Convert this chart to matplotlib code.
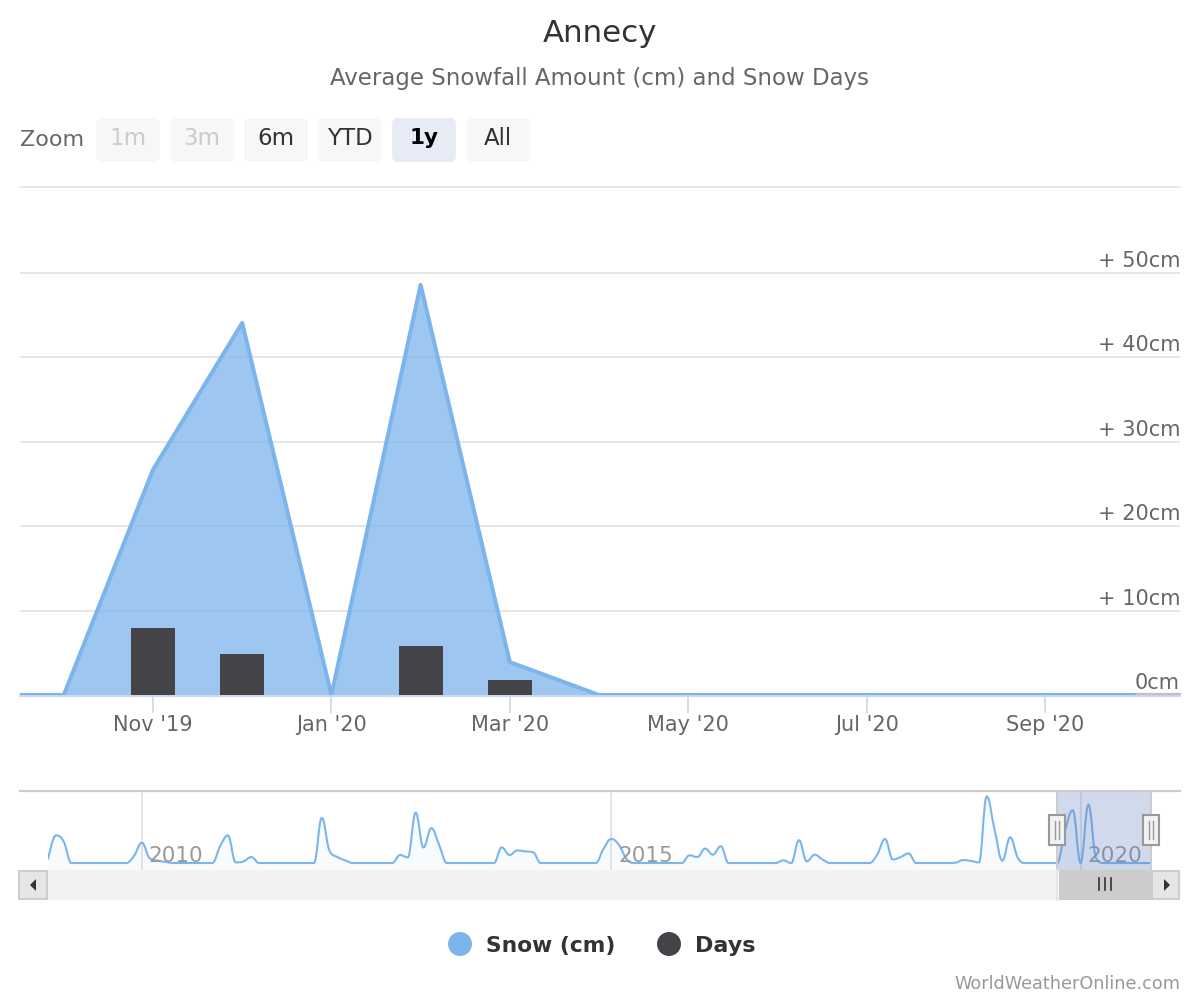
import numpy as np
import pandas as pd
import matplotlib
matplotlib.use("Agg")
import matplotlib.pyplot as plt
from matplotlib.path import Path
from matplotlib.patches import PathPatch, FancyBboxPatch, Rectangle, Circle, Polygon

# ------------------ data ------------------
# the axis is ordinal, every month takes the same width
main_months = ["Sep '19", "Oct '19", "Nov '19", "Dec '19", "Jan '20", "Feb '20", "Mar '20", "Apr '20",
               "May '20", "Jun '20", "Jul '20", "Aug '20", "Sep '20", "Oct '20", "Nov '20"]
main_snow = [0, 0, 26.7, 44.1, 0, 48.6, 3.9, 0, 0, 0, 0, 0, 0, 0, 0]

bar_months = ["Nov '19", "Dec '19", "Feb '20", "Mar '20"]
bar_days = [7.9, 4.9, 5.8, 1.8]

y_ticks = [0, 10, 20, 30, 40, 50]
y_labels = ["0cm", "+ 10cm", "+ 20cm", "+ 30cm", "+ 40cm", "+ 50cm"]
x_labels = ["Nov '19", "Jan '20", "Mar '20", "May '20", "Jul '20", "Sep '20"]

# navigator series, monthly from Jan 2009 to Oct 2020
nav_snow = [3, 23, 18, 0, 0, 0, 0, 0, 0, 0, 0, 6,
            17, 4, 2, 1, 0, 0, 0, 0, 0, 0, 14, 23,
            0.5, 1.4, 5, 0, 0, 0, 0, 0, 0, 0, 0, 37.5,
            10, 5, 2.2, 0, 0, 0, 0, 0, 0, 6.7, 4.7, 42,
            13, 29, 15, 0, 0, 0, 0, 0, 0, 0, 13, 6.7,
            10.5, 9.7, 9, 0, 0, 0, 0, 0, 0, 0, 0, 11.7,
            20, 15, 3, 0, 0, 0, 0, 0, 0, 0, 6.4, 5,
            12, 7, 14, 0, 0, 0, 0, 0, 0, 0, 2.2, 0,
            19, 1.4, 7, 3, 0, 0, 0, 0, 0, 0, 7, 20,
            3, 5, 8, 0, 0, 0, 0, 0, 0.3, 2.5, 1.7, 0.5,
            55.5, 28, 2, 21.4, 4, 0, 0, 0, 0, 0, 26.7, 44,
            0, 48.6, 3.7, 0, 0, 0, 0, 0, 0, 0]
nav_months = pd.date_range("2009-01-01", "2020-10-01", freq="MS")
nav_tick_dates = pd.to_datetime(["2010-01-01", "2015-01-01", "2020-01-01"])
nav_labels = ["2010", "2015", "2020"]

zoom_buttons = ["1m", "3m", "6m", "YTD", "1y", "All"]

BLUE = "#7cb5ec"
DARK = "#434348"

W, H = 1200, 1000
fig = plt.figure(figsize=(12, 10), dpi=100, facecolor="white")


def px_axes(left, top, right, bottom):
    return fig.add_axes([left / W, 1 - bottom / H, (right - left) / W, (bottom - top) / H])


def spline_path(xs, ys):
    # same control points a highcharts spline uses
    verts = [(xs[0], ys[0])]
    codes = [Path.MOVETO]
    n = len(xs)
    lc = [None] * n
    rc = [None] * n
    s = 1.5
    for i in range(1, n - 1):
        lx = (s * xs[i] + xs[i - 1]) / (s + 1)
        ly = (s * ys[i] + ys[i - 1]) / (s + 1)
        rx = (s * xs[i] + xs[i + 1]) / (s + 1)
        ry = (s * ys[i] + ys[i + 1]) / (s + 1)
        c = (ry - ly) * (rx - xs[i]) / (rx - lx) + ys[i] - ry
        ly += c
        ry += c
        if ly > ys[i] and ly > ys[i - 1]:
            ly = max(ys[i], ys[i - 1])
            ry = 2 * ys[i] - ly
        elif ly < ys[i] and ly < ys[i - 1]:
            ly = min(ys[i], ys[i - 1])
            ry = 2 * ys[i] - ly
        if ry > ys[i] and ry > ys[i + 1]:
            ry = max(ys[i], ys[i + 1])
            ly = 2 * ys[i] - ry
        elif ry < ys[i] and ry < ys[i + 1]:
            ry = min(ys[i], ys[i + 1])
            ly = 2 * ys[i] - ry
        lc[i] = (lx, ly)
        rc[i] = (rx, ry)
    for i in range(1, n):
        c1 = rc[i - 1] if rc[i - 1] else (xs[i - 1], ys[i - 1])
        c2 = lc[i] if lc[i] else (xs[i], ys[i])
        verts += [c1, c2, (xs[i], ys[i])]
        codes += [Path.CURVE4] * 3
    return verts, codes


# ------------------ main chart ------------------
ax = px_axes(20, 187, 1180, 695)
for s in ax.spines.values():
    s.set_visible(False)
ax.set_ylim(0, 60.2)
ax.set_xlim(0.509, 13.513)
ax.set_yticks(y_ticks[1:] + [60.2])
ax.tick_params(axis="y", length=0, labelleft=False)
ax.grid(axis="y", color="#e6e6e6", lw=1.4)
ax.get_ygridlines()[-1].set_clip_on(False)
ax.set_axisbelow(True)

main_x = list(range(len(main_months)))
ax.fill_between(main_x, main_snow, 0, color=BLUE, alpha=0.75, lw=0, zorder=2)
# clipped at the axes bottom, so only the top half of the line shows along zero
ax.plot(main_x, main_snow, color=BLUE, lw=2.9, zorder=3, solid_joinstyle="round")
bar_x = [main_months.index(m) for m in bar_months]
ax.bar(bar_x, bar_days, width=0.493, color=DARK, zorder=4)

ax.set_xticks([main_months.index(m) for m in x_labels])
ax.set_xticklabels(x_labels, fontsize=15, color="#666666")
ax.tick_params(axis="x", length=13, width=1.2, color="#ccd6eb", pad=1.5)
for lab, val in zip(y_labels, y_ticks):
    ax.annotate(lab, (1.0, val), xycoords=ax.get_yaxis_transform(), xytext=(0, 1.5), textcoords="offset points",
                ha="right", va="bottom", fontsize=15, color="#666666", zorder=6)

# ------------------ navigator ------------------
nav = px_axes(48, 791, 1151, 870)
for s in nav.spines.values():
    s.set_visible(False)
nav_x = list(range(len(nav_snow)))
nav.set_xlim(nav_x[0], nav_x[-1])
nav.set_ylim(-5.8, 60)
nav.set_yticks([])
verts, codes = spline_path(nav_x, list(nav_snow))
nav.add_patch(PathPatch(Path(verts + [(nav_x[-1], -5.8), (nav_x[0], -5.8), (nav_x[0], nav_snow[0])],
                             codes + [Path.LINETO, Path.LINETO, Path.LINETO]),
                        facecolor=BLUE, alpha=0.05, lw=0))
nav.add_patch(PathPatch(Path(verts, codes), facecolor="none", edgecolor=BLUE, lw=1.5))
nav_ticks = [nav_months.get_loc(t) for t in nav_tick_dates]
nav.set_xticks(nav_ticks)
nav.set_xticklabels([])
nav.tick_params(axis="x", length=0)
nav.grid(axis="x", color="#e6e6e6", lw=1.4)
nav.set_axisbelow(True)
for lab, t in zip(nav_labels, nav_ticks):
    nav.annotate(lab, (t, -5.8), xytext=(5, 3), textcoords="offset points",
                 fontsize=15.5, color="#999999", ha="left", va="bottom")

# ------------------ everything else, in picture pixels ------------------
ov = fig.add_axes([0, 0, 1, 1], facecolor="none")
ov.set_xlim(0, W)
ov.set_ylim(H, 0)
ov.axis("off")

ov.text(600, 34, "Annecy", ha="center", va="center", fontsize=22.2, color="#333333")
ov.text(599, 78, "Average Snowfall Amount (cm) and Snow Days", ha="center", va="center",
        fontsize=16.5, color="#666666")

ov.text(20, 140, "Zoom", ha="left", va="center", fontsize=16, color="#666666")
btn_left = [96, 170, 244, 318, 392, 466]
for name, left in zip(zoom_buttons, btn_left):
    active = name == "1y"
    off = name in ("1m", "3m")
    ov.add_patch(FancyBboxPatch((left + 3, 121), 58, 38, boxstyle="round,pad=0,rounding_size=3",
                                mutation_aspect=1, lw=3 * 1.4,
                                edgecolor="#e6ebf5" if active else "#f7f7f7",
                                facecolor="#e6ebf5" if active else "#f7f7f7"))
    ov.text(left + 32, 138.5, name, ha="center", va="center", fontsize=16.5 if name != "1y" else 15.5,
            color="#cccccc" if off else ("#000000" if active else "#333333"),
            fontweight="bold" if active else "normal")

# x axis line, grey stub under the 0cm label, navigator top line
ov.plot([20, 1180], [695.5, 695.5], color="#ccd6eb", lw=1.4, zorder=1)
ov.plot([1137, 1180], [693.7, 693.7], color="#c0c0c0", lw=1.6)
ov.plot([20, 1180], [791, 791], color="#cccccc", lw=1.6)

# navigator mask and handles
ov.add_patch(Rectangle((1057, 791), 94, 79, facecolor="#6685c2", alpha=0.3, lw=0))
ov.plot([1057, 1057], [791, 870], color="#cccccc", lw=1.4)
ov.plot([1151, 1151], [791, 870], color="#cccccc", lw=1.4)
for hx in (1057, 1151):
    ov.add_patch(Rectangle((hx - 8, 815), 16, 30, facecolor="#f2f2f2", edgecolor="#999999", lw=1.5, zorder=5))
    ov.plot([hx - 2, hx - 2], [821, 839], color="#999999", lw=1, zorder=6)
    ov.plot([hx + 2, hx + 2], [821, 839], color="#999999", lw=1, zorder=6)

# scrollbar
ov.add_patch(Rectangle((19, 870), 1160, 30, facecolor="#f2f2f2", lw=0))
ov.add_patch(Rectangle((1059, 870), 92, 30, facecolor="#cccccc", lw=0))
ov.plot([1057, 1057], [870, 900], color="#e6e6e6", lw=1.4)
for sx in (1099, 1105, 1111):
    ov.plot([sx, sx], [878, 890], color="#333333", lw=1.2)
ov.add_patch(Rectangle((19, 871), 28, 28, facecolor="#e6e6e6", edgecolor="#cccccc", lw=1.4))
ov.add_patch(Rectangle((1152, 871), 27, 28, facecolor="#e6e6e6", edgecolor="#cccccc", lw=1.4))
ov.add_patch(Polygon([[36, 879], [36, 891], [30, 885]], facecolor="#333333", lw=0))
ov.add_patch(Polygon([[1164, 879], [1164, 891], [1170, 885]], facecolor="#333333", lw=0))

# legend
ov.add_patch(Circle((460, 944), 12, facecolor=BLUE, lw=0))
ov.text(486, 946, "Snow (cm)", ha="left", va="center", fontsize=15.7, fontweight="bold", color="#333333")
ov.add_patch(Circle((669, 944), 12, facecolor=DARK, lw=0))
ov.text(695, 946, "Days", ha="left", va="center", fontsize=16, fontweight="bold", color="#333333")

ov.text(1180, 984, "WorldWeatherOnline.com", ha="right", va="center", fontsize=12.7, color="#999999")

fig.savefig("out.png", dpi=100)
